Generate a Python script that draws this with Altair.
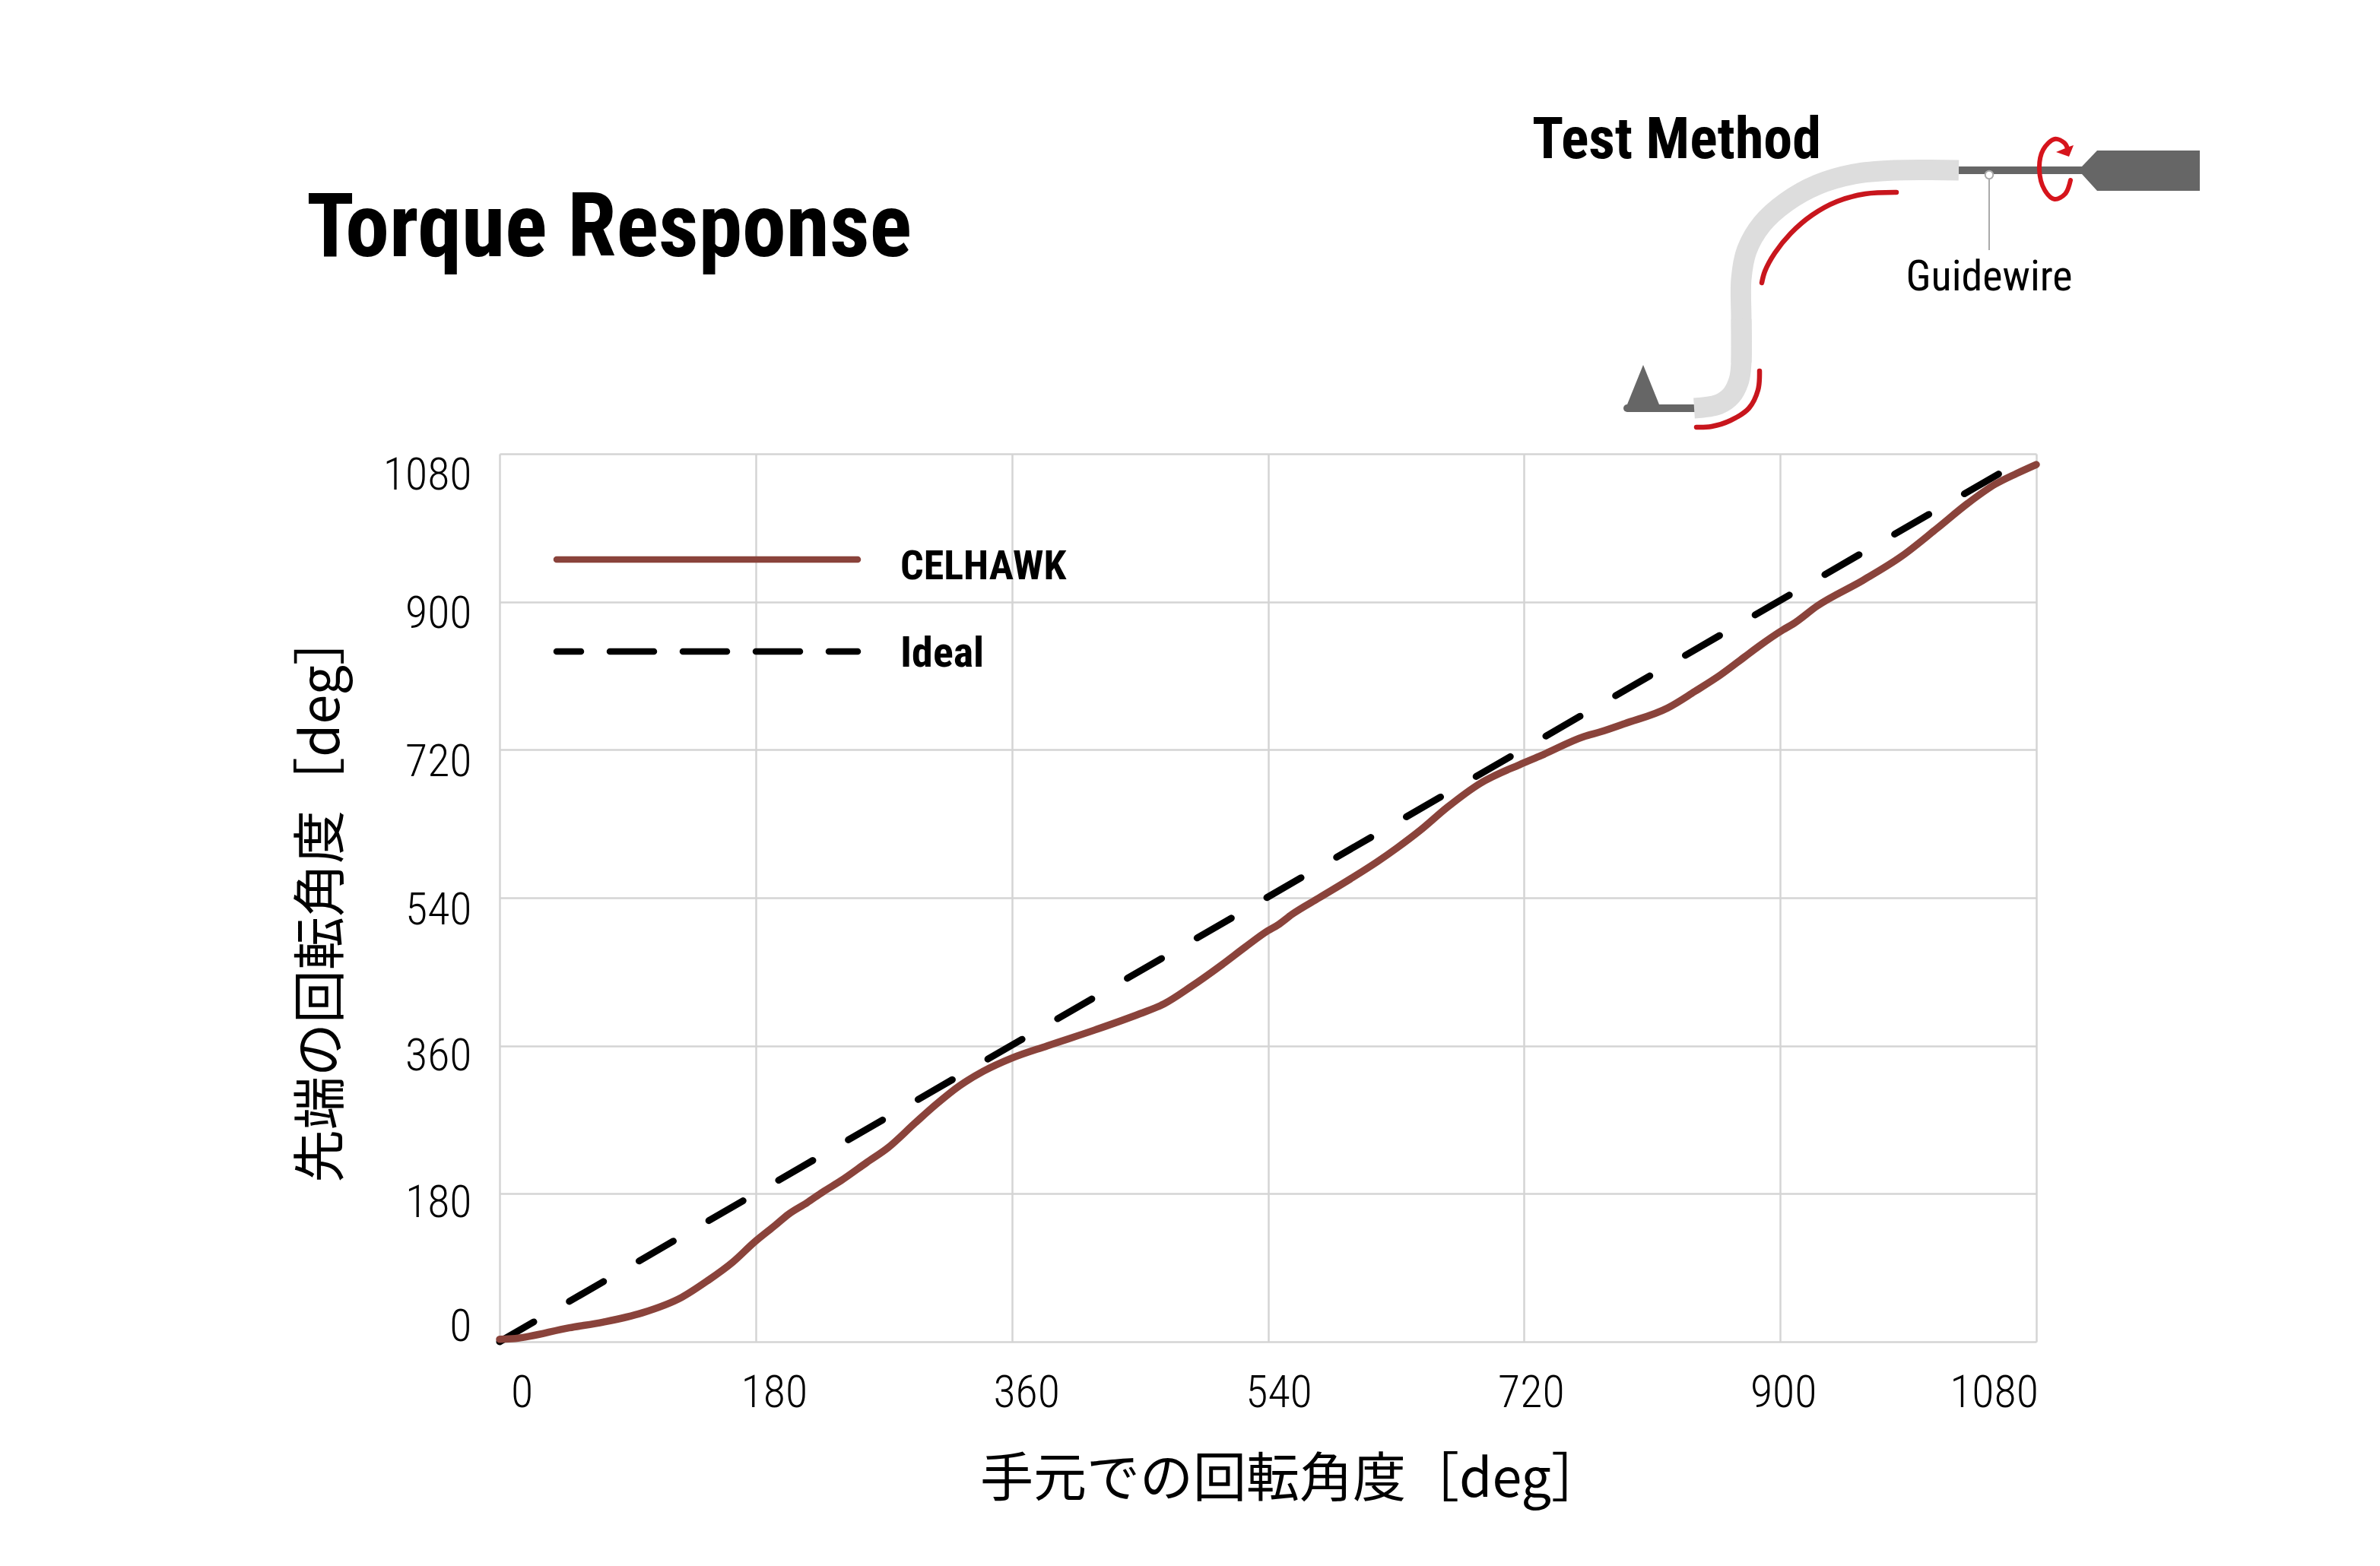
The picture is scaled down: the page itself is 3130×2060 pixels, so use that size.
import altair as alt
import pandas as pd

# ---------- chart values (degrees) ----------
TICKS = [0, 180, 360, 540, 720, 900, 1080]
CELHAWK_X = [0, 11, 49, 73, 100, 128, 146, 164, 179, 194, 203, 216, 227, 240, 258, 273, 292, 307, 323, 340,
             360, 385, 418, 450, 467, 486, 508, 524, 540, 547, 557, 576, 598, 617, 631, 647, 666, 689, 717,
             732, 762, 774, 791, 821, 840, 858, 875, 885, 902, 909, 926, 958, 985, 1010, 1032, 1051, 1066, 1080]
CELHAWK_Y = [3, 4, 17, 24, 35, 54, 74, 97, 121, 142, 155, 169, 182, 196, 218, 236, 266, 289, 311, 329,
             345, 360, 379, 399, 411, 432, 459, 480, 500, 507, 520, 540, 563, 584, 601, 622, 650, 679, 702,
             713, 736, 742, 752, 771, 791, 811, 833, 846, 866, 873, 895, 926, 955, 989, 1020, 1043, 1056, 1067]
IDEAL_X = [0, 1060]
IDEAL_Y = [0, 1062]

# ---------- texts ----------
TITLE = "Torque Response"
METHOD = "Test Method"
GUIDE = "Guidewire"
X_TITLE = "手元での回転角度［deg］"
Y_TITLE = "先端の回転角度［deg］"
SERIES = ["CELHAWK", "Ideal"]

# ---------- decorative diagram and legend geometry (picture coordinates) ----------
PANEL = dict(left=657, right=2678, top=597, bottom=1765)
TUBE_X = [2290, 2290, 2290, 2297, 2317, 2349, 2390, 2438, 2490, 2576]
TUBE_Y = [477, 420, 367, 330, 295, 266, 243, 229, 224, 224]
TUBE2_X = [2290, 2290, 2287, 2277, 2260, 2228]
TUBE2_Y = [420, 477, 500, 520, 532, 537]
RED1_X = [2494, 2453, 2416, 2383, 2355, 2334, 2321, 2317]
RED1_Y = [253, 255, 265, 283, 307, 333, 357, 372]
RED2_X = [2314, 2312, 2300, 2276, 2251, 2231]
RED2_Y = [488, 513, 537, 553, 561, 562]
SPIN_X = [2723, 2716, 2702, 2689, 2682, 2687, 2702, 2715, 2719]
SPIN_Y = [237, 255, 262, 250, 223, 197, 183, 188, 195]
GRAY = "#666666"
RED = "#c8161d"
BROWN = "#8a433b"
FONT = "Roboto Condensed"
JP = "Noto Sans CJK JP"

W = PANEL["right"] - PANEL["left"]
H = PANEL["bottom"] - PANEL["top"]


def px_x():
    return alt.X("x:Q", axis=None, scale=alt.Scale(domain=[PANEL["left"], PANEL["right"]], nice=False, zero=False))


def px_y():
    return alt.Y("y:Q", axis=None, scale=alt.Scale(domain=[PANEL["bottom"], PANEL["top"]], nice=False, zero=False))


def path(xs, ys, color, width, interp="linear", cap="butt", **kw):
    d = pd.DataFrame({"x": xs, "y": ys, "i": range(len(xs))})
    return alt.Chart(d).mark_line(color=color, strokeWidth=width, interpolate=interp, strokeCap=cap, **kw).encode(
        x=px_x(), y=px_y(), order="i:Q")


def poly(xs, ys, ys2, color):
    d = pd.DataFrame({"x": xs, "y": ys, "y2": ys2})
    return alt.Chart(d).mark_area(color=color, opacity=1).encode(x=px_x(), y=px_y(), y2="y2:Q")


def text(s, x, y, size, font=FONT, weight="normal", align="left"):
    d = pd.DataFrame({"x": [x], "y": [y], "t": [s]})
    return alt.Chart(d).mark_text(font=font, fontSize=size, fontWeight=weight, align=align,
                                  baseline="alphabetic", color="#000000").encode(x=px_x(), y=px_y(), text="t:N")


grid = dict(grid=True, gridColor="#d4d4d4", gridWidth=2.5, domain=False, ticks=False, values=TICKS, format="d",
            labelFont=FONT, labelFontSize=60, labelFontWeight=300, labelColor="#000000", labelFlush=False)

x_axis = alt.Axis(title=X_TITLE, titleFont=JP, titleFontSize=70, titleFontWeight="normal", titleColor="#000000",
                  titleX=1042, titleY=182, titleBaseline="middle", titleAlign="center",
                  labelBaseline="middle", labelAlign="center", labelPadding=67, labelAngle=0,
                  labelOffset=alt.expr("datum.value==0?29:datum.value==180?24:datum.value==360?19:datum.value==540?14:datum.value==720?9:datum.value==900?4:-56"),
                  **grid)
y_axis = alt.Axis(title=Y_TITLE, titleFont=JP, titleFontSize=70, titleFontWeight="normal", titleColor="#000000",
                  titleX=-233, titleY=583, titleAngle=270, titleBaseline="middle", titleAlign="center",
                  labelBaseline="middle", labelAlign="right", labelPadding=37,
                  labelOffset=alt.expr("datum.value==1080?28:datum.value==0?-20:datum.value==180?12:datum.value==360?14:16"),
                  **grid)

x_scale = alt.Scale(domain=[0, 1080], nice=False, zero=False)
y_scale = alt.Scale(domain=[0, 1080], nice=False, zero=False)

celhawk = alt.Chart(pd.DataFrame({"a": CELHAWK_X, "b": CELHAWK_Y})).mark_line(
    color=BROWN, strokeWidth=9.5, interpolate="monotone", strokeCap="round").encode(
    x=alt.X("a:Q", scale=x_scale, axis=x_axis), y=alt.Y("b:Q", scale=y_scale, axis=y_axis))
ideal = alt.Chart(pd.DataFrame({"a": IDEAL_X, "b": IDEAL_Y})).mark_line(
    color="#000000", strokeWidth=9, strokeCap="round", strokeDash=[52, 54]).encode(
    x=alt.X("a:Q", scale=x_scale, axis=None), y=alt.Y("b:Q", scale=y_scale, axis=None))

layers = [
    ideal, celhawk,
    path([732, 1128], [736, 736], BROWN, 8.5, cap="round"),
    path([732, 1128], [857, 857], "#000000", 8.5, cap="round", strokeDash=[58, 38], strokeDashOffset=26),
    text(SERIES[0], 1184, 762, 54, weight="bold"),
    text(SERIES[1], 1184, 877, 56, weight="bold"),
    text(TITLE, 403, 337, 116, weight="bold"),
    text(METHOD, 2015, 208, 76, weight="bold"),
    text(GUIDE, 2616, 382, 56, align="center"),
    path([2140, 2228], [537, 537], GRAY, 10, cap="round"),
    poly([2140, 2161, 2182], [532, 480, 532], [534, 534, 534], GRAY),
    path([2576, 2740], [224, 224], GRAY, 10),
    poly([2738, 2758, 2893], [219, 198, 198], [229, 251, 251], GRAY),
    path(TUBE_X, TUBE_Y, "#dddddd", 27, "catmull-rom"),
    path(TUBE2_X, TUBE2_Y, "#dddddd", 27, "catmull-rom"),
    path([2616, 2616], [232, 329], "#aaaaaa", 2),
    alt.Chart(pd.DataFrame({"x": [2616], "y": [230]})).mark_point(
        shape="circle", size=110, filled=True, fill="#ffffff", stroke="#aaaaaa", strokeWidth=2, opacity=1).encode(x=px_x(), y=px_y()),
    path(RED1_X, RED1_Y, RED, 6.5, "catmull-rom", "round"),
    path(RED2_X, RED2_Y, RED, 6.5, "catmull-rom", "round"),
    path(SPIN_X, SPIN_Y, "#d6141c", 6, "catmull-rom", "round"),
    poly([2704, 2721, 2727], [200, 193, 191], [200, 206, 191], "#d6141c"),
]

chart = alt.layer(*layers).resolve_scale(x="independent", y="independent").properties(
    width=W, height=H,
    autosize=alt.AutoSizeParams(type="none"),
    padding={"left": PANEL["left"] - 8, "top": PANEL["top"] - 8,
             "right": 3130 - 16 - (PANEL["left"] - 8) - W, "bottom": 2060 - 16 - (PANEL["top"] - 8) - H},
    background="#ffffff",
).configure_view(stroke=None)

chart.save("out.html", embed_options={"renderer": "svg", "actions": False})
